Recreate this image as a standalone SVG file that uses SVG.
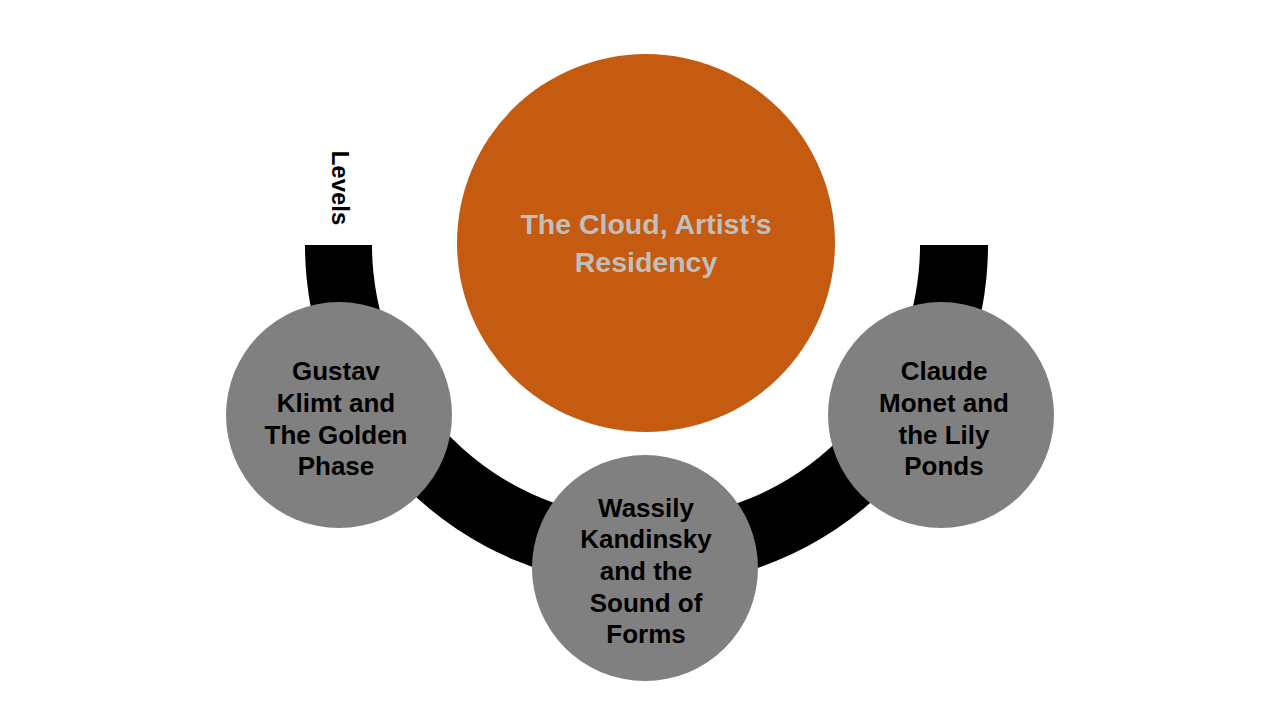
<svg xmlns="http://www.w3.org/2000/svg" width="1280" height="720" viewBox="0 0 1280 720">
<style>
.node{fill:#808080}
.lbl{font-family:"Liberation Sans",Arial,sans-serif;font-weight:bold;font-size:26px;fill:#000;text-anchor:middle}
.title{font-family:"Liberation Sans",Arial,sans-serif;font-weight:bold;font-size:28.5px;fill:#BFBFBF;text-anchor:middle}
</style>
<rect width="1280" height="720" fill="#fff"/>
<g id="connectors">
<path d="M 305 245 A 341.5 341.5 0 0 0 988 245 L 920 245 A 274 274 0 0 1 372 245 Z" fill="#000"/>
</g>
<g id="levels-label">
<text class="lbl" transform="translate(332 188) rotate(90)" style="font-size:24px">Levels</text>
</g>
<g id="center">
<circle cx="646" cy="243" r="189" fill="#C55A11"/>
<text class="title" x="646" y="234">The Cloud, Artist’s</text>
<text class="title" x="646" y="272">Residency</text>
</g>
<g id="klimt">
<circle class="node" cx="339" cy="415" r="113"/>
<text class="lbl" x="336" y="380">Gustav</text>
<text class="lbl" x="336" y="412">Klimt and</text>
<text class="lbl" x="336" y="444">The Golden</text>
<text class="lbl" x="336" y="475">Phase</text>
</g>
<g id="kandinsky">
<circle class="node" cx="645" cy="568" r="113"/>
<text class="lbl" x="646" y="517">Wassily</text>
<text class="lbl" x="646" y="548">Kandinsky</text>
<text class="lbl" x="646" y="580">and the</text>
<text class="lbl" x="646" y="612">Sound of</text>
<text class="lbl" x="646" y="643">Forms</text>
</g>
<g id="monet">
<circle class="node" cx="941" cy="415" r="113"/>
<text class="lbl" x="944" y="380">Claude</text>
<text class="lbl" x="944" y="412">Monet and</text>
<text class="lbl" x="944" y="444">the Lily</text>
<text class="lbl" x="944" y="475">Ponds</text>
</g>
</svg>
